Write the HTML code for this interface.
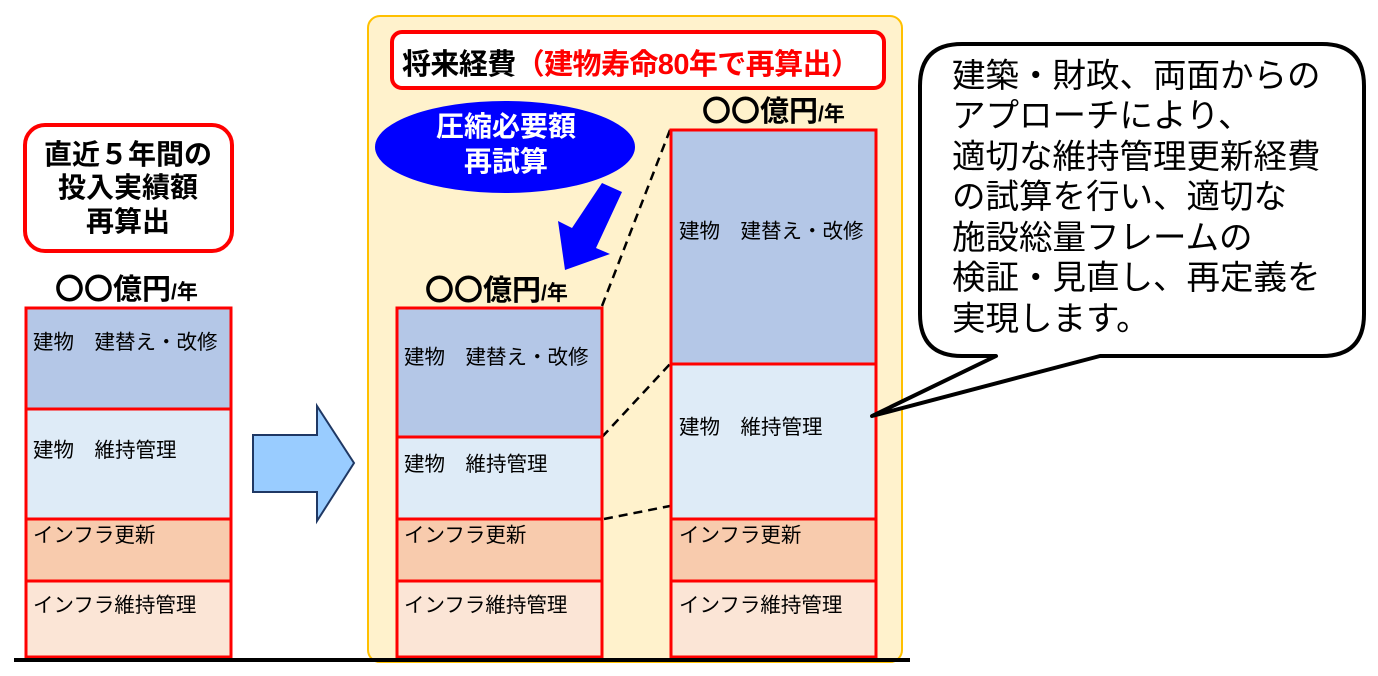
<!DOCTYPE html>
<html><head><meta charset="utf-8"><style>
html,body{margin:0;padding:0;background:#fff;}
svg{display:block;font-family:"Liberation Sans","Noto Sans CJK JP",sans-serif;}
</style></head><body>
<svg width="1378" height="676" viewBox="0 0 1378 676" xmlns="http://www.w3.org/2000/svg">
<rect x="368" y="16" width="534" height="646" rx="12" fill="#fff2cc" stroke="#ffc000" stroke-width="2"/>
<rect x="392" y="32" width="492" height="56" rx="10" fill="#fff" stroke="#ff0000" stroke-width="4"/>
<text x="402" y="74" font-size="29" font-weight="bold" textLength="458" lengthAdjust="spacing"><tspan fill="#000">将来経費</tspan><tspan fill="#ff0000">（建物寿命80年で再算出）</tspan></text>
<rect x="25" y="125" width="207" height="126" rx="20" fill="#fff" stroke="#ff0000" stroke-width="4"/>
<g font-size="28" font-weight="bold" text-anchor="middle" fill="#000">
<text x="128" y="164">直近５年間の</text>
<text x="128" y="197">投入実績額</text>
<text x="128" y="231">再算出</text>
</g>
<ellipse cx="505" cy="147" rx="130" ry="46" fill="#0000ff"/>
<g font-size="28" font-weight="bold" text-anchor="middle" fill="#fff">
<text x="506" y="136">圧縮必要額</text>
<text x="506" y="171">再試算</text>
</g>
<polygon points="602,183 622,192 596,248 610,254 565,270 558,221 572,228" fill="#0000ff"/>
<polygon points="253,435 317,435 317,406 354,463 317,521 317,492 253,492" fill="#99ccff" stroke="#1f3864" stroke-width="2"/>
<g stroke="#000" stroke-width="2.5" stroke-dasharray="9,6" fill="none">
<line x1="602" y1="306" x2="670" y2="130"/>
<line x1="602" y1="437" x2="670" y2="364"/>
<line x1="604" y1="519" x2="670" y2="506"/>
</g>
<g font-weight="bold" fill="#000">
<text x="55" y="299" font-size="29">〇〇億円<tspan font-size="21">/年</tspan></text>
<text x="425" y="300" font-size="29">〇〇億円<tspan font-size="21">/年</tspan></text>
<text x="702" y="121" font-size="29">〇〇億円<tspan font-size="21">/年</tspan></text>
</g>
<g stroke="#ff0000" stroke-width="3">
<rect x="26" y="308" width="205" height="101" fill="#b4c7e7"/>
<rect x="26" y="409" width="205" height="110" fill="#deebf7"/>
<rect x="26" y="519" width="205" height="62" fill="#f8cbad"/>
<rect x="26" y="581" width="205" height="76" fill="#fbe5d6"/>
<rect x="397" y="308" width="205" height="129" fill="#b4c7e7"/>
<rect x="397" y="437" width="205" height="82" fill="#deebf7"/>
<rect x="397" y="519" width="205" height="62" fill="#f8cbad"/>
<rect x="397" y="581" width="205" height="76" fill="#fbe5d6"/>
<rect x="671" y="130" width="205" height="234" fill="#b4c7e7"/>
<rect x="671" y="364" width="205" height="155" fill="#deebf7"/>
<rect x="671" y="519" width="205" height="62" fill="#f8cbad"/>
<rect x="671" y="581" width="205" height="76" fill="#fbe5d6"/>
</g>
<g font-size="20.5" fill="#000">
<text x="33" y="349">建物　建替え・改修</text>
<text x="33" y="457">建物　維持管理</text>
<text x="33" y="542">インフラ更新</text>
<text x="33" y="612">インフラ維持管理</text>
<text x="404" y="364">建物　建替え・改修</text>
<text x="404" y="471">建物　維持管理</text>
<text x="404" y="542">インフラ更新</text>
<text x="404" y="612">インフラ維持管理</text>
<text x="679" y="238">建物　建替え・改修</text>
<text x="679" y="434">建物　維持管理</text>
<text x="679" y="542">インフラ更新</text>
<text x="679" y="612">インフラ維持管理</text>
</g>
<line x1="14" y1="660" x2="910" y2="660" stroke="#000" stroke-width="4"/>
<path d="M962,44 H1322 Q1364,44 1364,86 V314 Q1364,356 1322,356 H1100 L872,416 L996,356 H962 Q920,356 920,314 V86 Q920,44 962,44 Z" fill="#fff" stroke="#000" stroke-width="4" stroke-linejoin="round"/>
<g font-size="33.5" fill="#000">
<text x="952" y="87">建築・財政、両面からの</text>
<text x="952" y="127">アプローチにより、</text>
<text x="952" y="168">適切な維持管理更新経費</text>
<text x="952" y="208">の試算を行い、適切な</text>
<text x="952" y="249">施設総量フレームの</text>
<text x="952" y="289">検証・見直し、再定義を</text>
<text x="952" y="330">実現します。</text>
</g>
<text x="-6" y="392" font-size="20" fill="#000">›</text>
</svg>
</body></html>
